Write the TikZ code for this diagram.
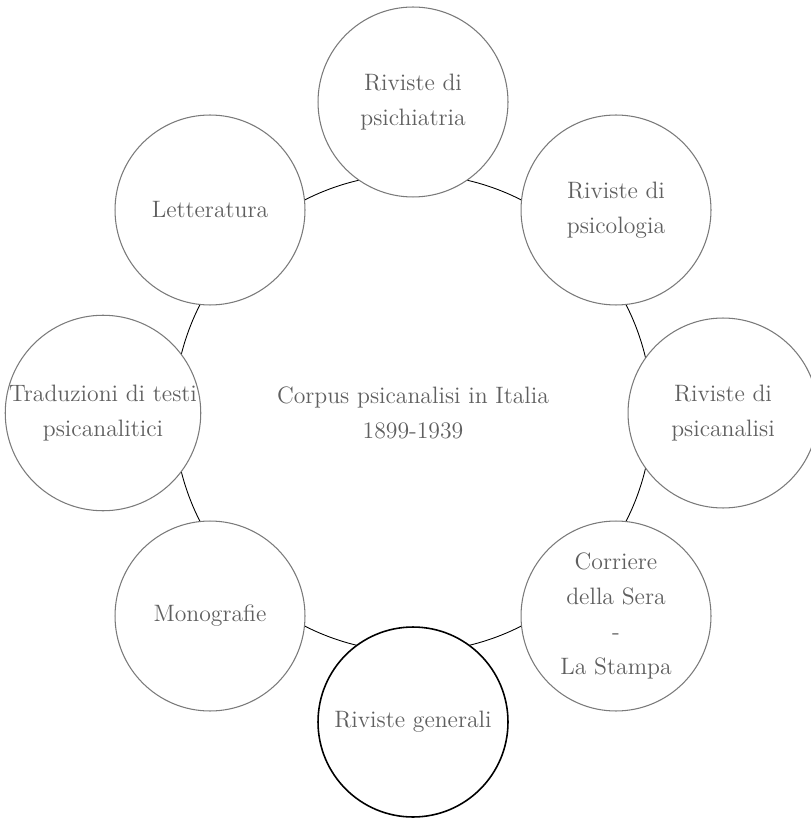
\documentclass[tikz,border=0pt]{standalone}
\usepackage{tikz}
\definecolor{testo}{HTML}{5F5F5F}
\definecolor{bordo}{HTML}{7A7A7A}
\tikzset{
  fonte/.style={circle, draw=bordo, line width=0.6pt, fill=white, minimum size=3.8cm,
    inner sep=0pt, align=center, text=testo, font=\fontsize{13.5}{20}\selectfont},
  centro/.style={circle, draw=black, line width=0.5pt, minimum size=9.56cm,
    align=center, text=testo, font=\fontsize{13.5}{20}\selectfont}
}
\newcommand{\fonte}[3]{\node[fonte] (#1) at (#2) {#3};}

\begin{document}
\begin{tikzpicture}[x=0.02cm, y=-0.02cm]
  \useasboundingbox (0,0) rectangle (810,820);
  \node[centro] (corpus) at (413,413) {Corpus psicanalisi in Italia\\1899-1939};
  \fonte{psichiatria}{413,102}{Riviste di\\psichiatria}
  \fonte{psicologia}{616,210}{Riviste di\\psicologia}
  \fonte{psicanalisi}{723,413}{Riviste di\\psicanalisi}
  \fonte{stampa}{616,616}{Corriere\\della Sera\\-\\La Stampa}
  \fonte{monografie}{210,616}{Monografie}
  \fonte{traduzioni}{103,413}{Traduzioni di testi\\psicanalitici}
  \fonte{letteratura}{210,210}{Letteratura}
  \node[fonte, draw=black, line width=0.9pt] (generali) at (413,722) {Riviste generali};
\end{tikzpicture}
\end{document}
